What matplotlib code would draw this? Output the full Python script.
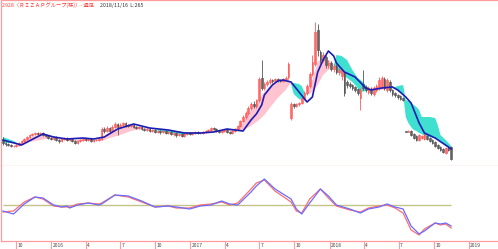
import matplotlib
matplotlib.use('Agg')
import matplotlib.pyplot as plt
import matplotlib.dates as mdates
import matplotlib.transforms as mtransforms
import numpy as np
import pandas as pd

plt.rcParams['font.family'] = ['Noto Sans CJK JP', 'DejaVu Sans']

# 週足 2015/08/28 - 2018/11/16 (169本)
weeks = pd.date_range('2015-08-28', periods=169, freq='7D')

opens = [455, 425, 415, 405, 395, 395, 405, 425, 445, 465,
         485, 505, 515, 525, 515, 525, 505, 495, 475, 465,
         485, 455, 445, 465, 475, 455, 465, 445, 425, 445,
         455, 465, 455, 465, 445, 455, 455, 465, 565, 545,
         575, 545, 585, 615, 585, 605, 625, 605, 595, 605,
         585, 575, 585, 565, 555, 565, 545, 555, 535, 545,
         535, 545, 525, 535, 515, 525, 505, 515, 495, 515,
         525, 515, 525, 535, 525, 525, 535, 545, 555, 575,
         565, 545, 535, 545, 555, 535, 525, 545, 565, 595,
         645, 685, 725, 775, 815, 795, 855, 1075, 975, 1015,
         1035, 1055, 1045, 1065, 1055, 1045, 1065, 1085, 675, 815,
         795, 815, 825, 875, 925, 995, 1115, 1215, 1555, 1335,
         1255, 1285, 1205, 1225, 1165, 1195, 1135, 1095, 1125, 1035,
         1015, 1005, 985, 965, 875, 1015, 985, 935, 965, 915,
         955, 975, 995, 1065, 955, 1035, 955, 925, 905, 895,
         875, 545, 535, 545, 515, 495, 455, 475, 465, 495,
         475, 455, 435, 405, 385, 365, 325, 375, 385]
closes = [425, 415, 405, 395, 395, 405, 425, 445, 465, 485,
          505, 515, 525, 515, 525, 505, 495, 475, 465, 485,
          455, 445, 465, 475, 455, 465, 445, 425, 445, 455,
          465, 455, 465, 445, 455, 455, 465, 565, 545, 575,
          545, 585, 615, 585, 605, 625, 605, 595, 605, 585,
          575, 585, 565, 555, 565, 545, 555, 535, 545, 535,
          545, 525, 535, 515, 525, 505, 515, 495, 515, 525,
          515, 525, 535, 525, 525, 535, 545, 555, 575, 565,
          545, 535, 545, 555, 535, 525, 545, 565, 595, 645,
          685, 725, 775, 815, 795, 855, 1065, 975, 1015, 1035,
          1055, 1045, 1065, 1055, 1045, 1065, 1075, 1215, 815, 795,
          815, 825, 875, 925, 995, 1115, 1235, 1535, 1355, 1255,
          1305, 1205, 1225, 1165, 1195, 1135, 1155, 1155, 925, 1005,
          995, 975, 955, 925, 955, 975, 955, 975, 925, 975,
          995, 1055, 1075, 975, 1055, 955, 915, 905, 885, 865,
          855, 535, 545, 505, 475, 455, 505, 495, 515, 465,
          445, 425, 395, 375, 355, 335, 375, 355, 265]
highs = [485, 435, 425, 415, 405, 415, 435, 455, 475, 495,
         515, 525, 535, 535, 535, 535, 515, 505, 485, 495,
         495, 465, 475, 485, 485, 475, 475, 455, 455, 465,
         475, 475, 475, 475, 465, 465, 475, 585, 585, 595,
         585, 605, 635, 625, 625, 635, 635, 615, 615, 615,
         595, 595, 595, 575, 575, 575, 565, 565, 555, 555,
         555, 555, 545, 545, 535, 535, 525, 525, 525, 535,
         535, 535, 545, 545, 535, 545, 555, 565, 585, 585,
         575, 555, 555, 565, 565, 545, 555, 575, 605, 655,
         705, 745, 795, 835, 845, 865, 1085, 1255, 1035, 1055,
         1075, 1065, 1075, 1075, 1065, 1075, 1095, 1235, 835, 825,
         825, 835, 895, 945, 1015, 1135, 1305, 1635, 1615, 1355,
         1335, 1305, 1255, 1245, 1215, 1215, 1175, 1175, 1145, 1055,
         1035, 1015, 995, 975, 975, 1155, 1005, 995, 985, 995,
         1015, 1085, 1095, 1085, 1075, 1055, 965, 935, 915, 905,
         885, 545, 555, 555, 525, 505, 515, 505, 525, 505,
         485, 465, 445, 415, 395, 375, 385, 385, 395]
lows = [405, 395, 395, 385, 385, 385, 395, 415, 435, 455,
        475, 495, 505, 505, 505, 495, 485, 465, 455, 455,
        445, 425, 435, 455, 445, 445, 435, 415, 415, 435,
        445, 445, 445, 435, 435, 445, 445, 455, 525, 535,
        525, 535, 575, 505, 575, 595, 585, 585, 585, 575,
        565, 565, 555, 545, 545, 535, 535, 525, 525, 515,
        525, 515, 515, 505, 495, 485, 495, 485, 485, 505,
        505, 505, 515, 515, 515, 515, 525, 535, 545, 555,
        535, 525, 525, 535, 525, 515, 515, 535, 555, 585,
        635, 665, 705, 755, 775, 775, 835, 955, 955, 995,
        1015, 1025, 1035, 1035, 1035, 1035, 1045, 1065, 655, 775,
        785, 795, 815, 855, 905, 975, 1095, 1195, 1295, 1225,
        1235, 1175, 1175, 1145, 1135, 1115, 1105, 1055, 895, 975,
        975, 955, 935, 905, 755, 955, 935, 915, 905, 895,
        935, 955, 975, 955, 935, 935, 895, 885, 865, 855,
        845, 535, 535, 495, 465, 445, 445, 465, 455, 455,
        435, 415, 385, 365, 345, 325, 315, 345, 255]

# 移動平均線 (青)
ma_weeks = [0, 7, 12, 15, 19, 24, 30, 34, 38, 43,
            49, 55, 62, 68, 74, 79, 84, 90, 93, 95,
            97, 98, 101, 103, 105, 108, 111, 114, 116, 118,
            120, 122, 124, 125, 128, 132, 136, 138, 142, 146,
            148, 151, 153, 156, 158, 162, 167, 168]
ma_vals = [455, 405, 475, 515, 485, 465, 475, 465, 485, 565,
           615, 575, 555, 525, 525, 535, 565, 545, 655, 715,
           805, 905, 1005, 1045, 1055, 1035, 935, 835, 885, 1135,
           1255, 1345, 1295, 1225, 1135, 1085, 975, 955, 975, 985,
           955, 885, 825, 625, 525, 475, 385, 365]

# 雲
cloud_weeks = [0, 4, 6, 10, 14, 18, 22, 26, 30, 34,
               37, 40, 44, 48, 52, 56, 60, 64, 68, 72,
               76, 80, 84, 88, 90, 93, 96, 98, 100, 103,
               106, 107, 108, 109, 111, 112, 113, 114, 116, 118,
               120, 122, 124, 125, 127, 129, 131, 133, 135, 137,
               138, 142, 146, 148, 150, 151, 152, 153, 154, 155,
               156, 157, 158, 160, 162, 163, 164, 166, 168]
cloud_fast = [425, 425, 415, 475, 515, 495, 465, 455, 465, 455,
              475, 535, 585, 605, 585, 565, 535, 525, 505, 515,
              535, 555, 555, 575, 635, 755, 855, 935, 995, 1035,
              1055, 1065, 1015, 915, 865, 855, 885, 935, 1055, 1235,
              1275, 1255, 1215, 1135, 1115, 1075, 1035, 975, 935, 965,
              975, 995, 995, 955, 915, 685, 625, 585, 555, 545,
              525, 515, 495, 485, 475, 465, 445, 405, 355]
cloud_slow = [485, 445, 415, 435, 455, 475, 455, 445, 445, 445,
              445, 475, 505, 545, 565, 565, 555, 545, 535, 525,
              525, 535, 545, 545, 555, 595, 655, 705, 775, 875,
              955, 995, 1015, 1025, 1015, 995, 935, 905, 935, 1005,
              1105, 1155, 1195, 1305, 1295, 1255, 1155, 1075, 1035, 965,
              955, 955, 975, 995, 1005, 855, 845, 825, 805, 785,
              755, 685, 685, 685, 675, 605, 505, 455, 395]

# オシレーター
osc_weeks = [0, 4, 8, 12, 15, 19, 22, 24, 25, 28,
             32, 36, 37, 42, 47, 52, 57, 62, 65, 70,
             74, 78, 82, 85, 88, 93, 95, 98, 102, 108,
             110, 112, 115, 119, 122, 125, 130, 134, 137, 141,
             144, 147, 150, 153, 156, 158, 162, 164, 166, 168]
osc_blue = [-24, -36, 4, 32, 28, 0, -8, -4, -12, 0,
            8, 0, 4, 40, 36, 16, -8, -4, -8, -16,
            -4, 0, 16, 4, 0, 52, 76, 104, 64, 24,
            -16, -36, 8, 64, 36, 0, -16, -32, -16, -8,
            4, -8, -16, -84, -116, -104, -72, -76, -72, -84]
osc_red = [-28, -24, 12, 32, 24, -4, -8, -8, -8, 4,
           8, 4, 8, 40, 32, 12, -8, -4, -12, -12,
           0, 4, 12, 0, 8, 64, 88, 100, 56, 12,
           -24, -32, 24, 64, 28, -4, -20, -28, -12, -4,
           0, -12, -32, -100, -120, -96, -72, -80, -76, -92]

tick_dates = ['2015-10-01', '2016-01-01', '2016-04-01', '2016-07-01', '2016-10-01',
              '2017-01-01', '2017-04-01', '2017-07-01', '2017-10-01', '2018-01-01',
              '2018-04-01', '2018-07-01', '2018-10-01', '2019-01-01']
tick_labels = ['10', '2016', '4', '7', '10', '2017', '4', '7', '10', '2018',
               '4', '7', '10', '2019']

frame = '#ff9c9c'

x = mdates.date2num(weeks)
o = np.array(opens)
c = np.array(closes)
h = np.array(highs)
l = np.array(lows)

fig = plt.figure(figsize=(4.98, 2.49), dpi=100)
ax = fig.add_axes([0.002, 83 / 249, 0.998, 165.5 / 249])
ax2 = fig.add_axes([0.002, 8 / 249, 0.998, 75 / 249])

xmin = mdates.date2num(pd.Timestamp('2015-08-23'))
xmax = mdates.date2num(pd.Timestamp('2019-03-19'))

# 雲
cx = x[cloud_weeks]
cf = np.array(cloud_fast)
cs = np.array(cloud_slow)
ax.fill_between(cx, cf, cs, where=cf >= cs, interpolate=True, color='#ffc4cf', lw=0)
ax.fill_between(cx, cf, cs, where=cf < cs, interpolate=True, color='#3fe0cf', lw=0)

# ローソク足
up = c >= o
dn = ~up
ax.vlines(x[up], l[up], h[up], color='#ff5a5a', lw=0.6)
ax.vlines(x[dn], l[dn], h[dn], color='#555555', lw=0.6)
ax.bar(x[up], (c - o)[up], bottom=o[up], width=4.5, color='#ffb8b8',
       edgecolor='#ff5a5a', lw=0.5)
ax.bar(x[dn], (o - c)[dn], bottom=c[dn], width=4.5, color='#b4b4b4',
       edgecolor='#555555', lw=0.5)

ax.plot(x[ma_weeks], ma_vals, color='#1c1cb4', lw=1.2)

ax.set_xlim(xmin, xmax)
ax.set_ylim(195, 1850)
ax.set_xticks([])
ax.set_yticks([])
for s in ['top', 'left', 'bottom']:
    ax.spines[s].set_color(frame)
    ax.spines[s].set_linewidth(0.9)
ax.spines['right'].set_visible(False)

fig.text(2 / 498, 1 - 5.5 / 249, '2928（ＲＩＺＡＰグループ(株)）- 週足', color='#ff3c3c',
         fontsize=3.8, va='center', ha='left')
fig.text(100 / 498, 1 - 5.5 / 249, '2018/11/16  L:265', color='#333333',
         fontsize=3.8, va='center', ha='left')

# 下段
ox = x[osc_weeks]
ax2.hlines(0, x[0], x[-1], color='#c4c48a', lw=1.0)
ax2.plot(ox, osc_red, color='#ff6f6f', lw=0.9)
ax2.plot(ox, osc_blue, color='#6b6bff', lw=0.9)
ax2.set_xlim(xmin, xmax)
ax2.set_ylim(-144, 156)
ax2.set_yticks([])
ax2.set_xticks(mdates.date2num(pd.to_datetime(tick_dates)))
ax2.tick_params(axis='x', length=6, width=0.8, color=frame, labelbottom=False)
for s in ['left', 'bottom']:
    ax2.spines[s].set_color(frame)
    ax2.spines[s].set_linewidth(0.9)
ax2.spines['right'].set_visible(False)
ax2.spines['top'].set_visible(False)

trans = mtransforms.blended_transform_factory(ax2.transData, ax2.transAxes)
for d, lab in zip(tick_dates, tick_labels):
    ax2.text(mdates.date2num(pd.Timestamp(d)) + 4, -0.055, lab, transform=trans,
             fontsize=3.5, color='#444444', va='center', ha='left', clip_on=False)

fig.savefig('out.png', dpi=100)
